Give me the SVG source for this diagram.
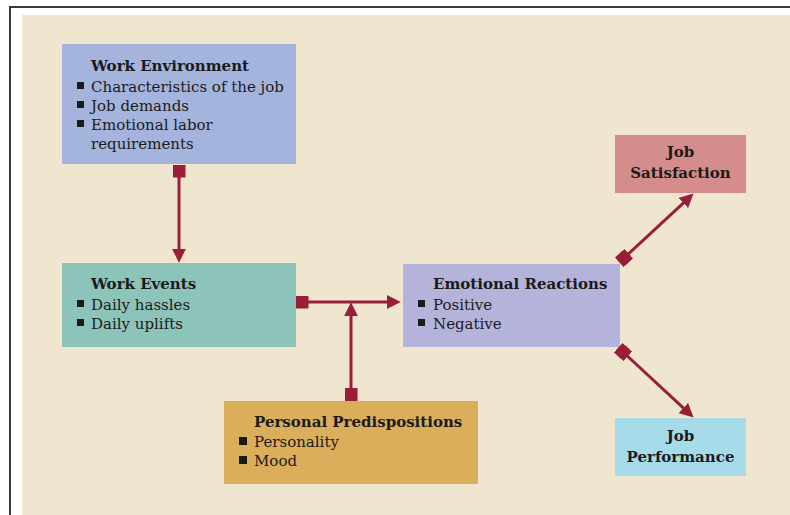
<svg xmlns="http://www.w3.org/2000/svg" width="790" height="515" viewBox="0 0 790 515">
<style>
.t{font-family:"DejaVu Serif","Liberation Serif",serif;font-size:15px;fill:#1c1a1a}
.b{font-weight:bold}
.c{text-anchor:middle}
.bul{fill:#1c1a1a}
.con{stroke:#9a1d39;stroke-width:3;fill:none}
</style>
<defs>
<marker id="arr" markerUnits="userSpaceOnUse" markerWidth="14" markerHeight="14" viewBox="0 0 13 13" refX="3" refY="6.5" orient="auto">
<path d="M0,0 L13,6.5 L0,13 z" fill="#9a1d39"/>
</marker>
<marker id="sq" markerUnits="userSpaceOnUse" markerWidth="13" markerHeight="13" viewBox="0 0 13 13" refX="6.5" refY="6.5" orient="auto">
<rect x="0" y="0" width="13" height="13" fill="#9a1d39"/>
</marker>
</defs>
<rect x="0" y="0" width="790" height="515" fill="#ffffff"/>
<rect x="9" y="6" width="781" height="2" fill="#3a3a3a"/>
<rect x="9" y="6" width="2" height="509" fill="#3a3a3a"/>
<rect x="22" y="15" width="768" height="500" fill="#f0e6d0"/>

<g id="work-environment">
<rect x="62" y="44" width="234" height="120" fill="#a4b4dc"/>
<text class="t b" x="91" y="71">Work Environment</text>
<rect class="bul" x="77" y="82" width="7" height="7"/>
<text class="t" x="91" y="92">Characteristics of the job</text>
<rect class="bul" x="77" y="101" width="7" height="7"/>
<text class="t" x="91" y="111">Job demands</text>
<rect class="bul" x="77" y="120" width="7" height="7"/>
<text class="t" x="91" y="130">Emotional labor</text>
<text class="t" x="91" y="149">requirements</text>
</g>

<g id="work-events">
<rect x="62" y="263" width="234" height="84" fill="#8dc4ba"/>
<text class="t b" x="91" y="289">Work Events</text>
<rect class="bul" x="77" y="300" width="7" height="7"/>
<text class="t" x="91" y="310">Daily hassles</text>
<rect class="bul" x="77" y="319" width="7" height="7"/>
<text class="t" x="91" y="329">Daily uplifts</text>
</g>

<g id="emotional-reactions">
<rect x="403" y="264" width="217" height="83" fill="#b4b4da"/>
<text class="t b" x="433" y="289">Emotional Reactions</text>
<rect class="bul" x="418" y="300" width="7" height="7"/>
<text class="t" x="433" y="310">Positive</text>
<rect class="bul" x="418" y="319" width="7" height="7"/>
<text class="t" x="433" y="329">Negative</text>
</g>

<g id="personal-predispositions">
<rect x="224" y="401" width="254" height="83" fill="#dbae5c"/>
<text class="t b" x="254" y="427">Personal Predispositions</text>
<rect class="bul" x="239" y="437" width="8" height="8"/>
<text class="t" x="254" y="447">Personality</text>
<rect class="bul" x="239" y="456" width="8" height="8"/>
<text class="t" x="254" y="466">Mood</text>
</g>

<g id="job-satisfaction">
<rect x="615" y="135" width="131" height="58" fill="#d48c8c"/>
<text class="t b c" x="680.5" y="157">Job</text>
<text class="t b c" x="680.5" y="178">Satisfaction</text>
</g>

<g id="job-performance">
<rect x="615" y="418" width="131" height="58" fill="#a6dcea"/>
<text class="t b c" x="680.5" y="441">Job</text>
<text class="t b c" x="680.5" y="462">Performance</text>
</g>

<g id="connectors">
<line class="con" x1="179" y1="171" x2="179" y2="252" marker-start="url(#sq)" marker-end="url(#arr)"/>
<line class="con" x1="302" y1="302" x2="390" y2="302" marker-start="url(#sq)" marker-end="url(#arr)"/>
<line class="con" x1="351" y1="394.5" x2="351" y2="313" marker-start="url(#sq)" marker-end="url(#arr)"/>
<line class="con" x1="624" y1="258" x2="685.7" y2="200.8" marker-start="url(#sq)" marker-end="url(#arr)"/>
<line class="con" x1="623" y1="352" x2="685.7" y2="410.2" marker-start="url(#sq)" marker-end="url(#arr)"/>
</g>
</svg>
